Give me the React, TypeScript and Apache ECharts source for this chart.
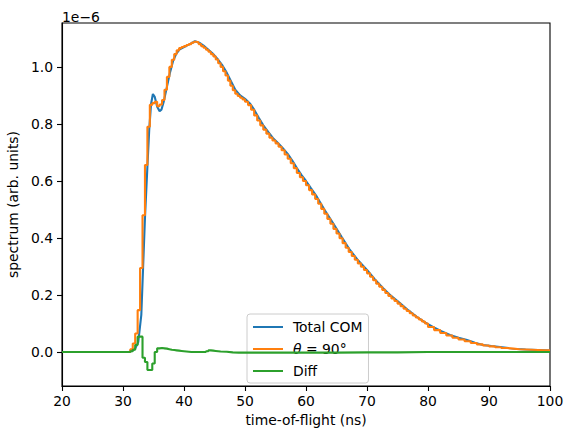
import React, { useEffect, useRef } from "react";
import * as echarts from "echarts";

// Values in units of 1e-6 (shown by the "1e−6" offset label)
const xTicks = [20, 30, 40, 50, 60, 70, 80, 90, 100];
const yTicks = [0.0, 0.2, 0.4, 0.6, 0.8, 1.0];

const totalT = [20, 30, 31, 31.5, 32, 32.5, 33, 33.3, 33.6, 34, 34.3, 34.6, 34.9, 35.2, 35.6, 36, 36.3, 36.7, 37.2, 37.7, 38.2, 38.7, 39.3, 40, 40.8, 41.8, 42.5, 43.2, 44, 44.8, 45.6, 46.3, 47, 47.7, 48.4, 49.2, 50, 50.8, 51.5, 52.3, 53, 53.8, 54.6, 55.4, 56.2, 57, 57.8, 58.5, 59.3, 60, 60.8, 61.8, 63, 64.4, 65.8, 67.2, 68.6, 70, 71.3, 72.6, 74, 75.4, 76.8, 78.2, 79.5, 80.8, 82.2, 83.6, 85, 86.4, 87.7, 89, 90.4, 91.8, 93.2, 94.6, 96, 98, 100];
const totalV = [0, 0, 0.001, 0.004, 0.012, 0.035, 0.13, 0.3, 0.47, 0.65, 0.78, 0.87, 0.905, 0.895, 0.86, 0.845, 0.85, 0.88, 0.93, 0.98, 1.02, 1.045, 1.062, 1.07, 1.078, 1.09, 1.085, 1.075, 1.06, 1.045, 1.025, 1.005, 0.98, 0.95, 0.92, 0.9, 0.888, 0.872, 0.85, 0.82, 0.795, 0.772, 0.75, 0.733, 0.715, 0.695, 0.67, 0.645, 0.62, 0.6, 0.575, 0.544, 0.5, 0.453, 0.405, 0.358, 0.32, 0.288, 0.255, 0.225, 0.196, 0.172, 0.146, 0.123, 0.104, 0.088, 0.073, 0.06, 0.05, 0.042, 0.033, 0.025, 0.021, 0.018, 0.014, 0.011, 0.009, 0.007, 0.005];

// theta = 90 deg, histogram (value holds up to each listed bin edge)
const thetaT = [20, 30, 31.2, 31.6, 32.0, 32.4, 32.8, 33.2, 33.6, 34.0, 34.4, 34.8, 35.2, 35.6, 36.0, 36.4, 36.8, 37.2, 37.6, 38.0, 38.4, 38.8, 39.2, 39.6, 40.0, 40.4, 40.8, 41.2, 41.6, 42.0, 42.4, 42.8, 43.2, 43.6, 44.0, 44.4, 44.8, 45.2, 45.6, 46.0, 46.4, 46.8, 47.2, 47.6, 48.0, 48.4, 48.8, 49.2, 49.6, 50.0, 50.5, 51, 51.5, 52, 52.5, 53, 53.5, 54, 54.5, 55, 55.5, 56, 56.5, 57, 57.5, 58, 58.5, 59, 59.5, 60, 60.5, 61, 61.5, 62, 62.5, 63, 63.5, 64, 64.5, 65, 65.5, 66, 66.5, 67, 67.5, 68, 68.5, 69, 69.5, 70, 70.5, 71, 71.5, 72, 72.5, 73, 73.5, 74, 74.5, 75, 75.5, 76, 76.5, 77, 77.5, 78, 78.5, 79, 79.5, 80, 81, 82, 83, 84, 85, 86, 87, 88, 89, 90, 91, 92, 93, 94, 95, 96, 97, 98, 99, 100];
const thetaV = [0, 0, 0, 0.01, 0.03, 0.065, 0.147, 0.295, 0.48, 0.656, 0.79, 0.867, 0.873, 0.878, 0.862, 0.868, 0.884, 0.92, 0.965, 1.0, 1.025, 1.045, 1.058, 1.066, 1.07, 1.073, 1.077, 1.08, 1.085, 1.088, 1.086, 1.08, 1.073, 1.067, 1.06, 1.053, 1.045, 1.037, 1.026, 1.013, 1.0, 0.985, 0.97, 0.952, 0.934, 0.918, 0.906, 0.898, 0.892, 0.886, 0.878, 0.866, 0.85, 0.83, 0.812, 0.795, 0.78, 0.766, 0.752, 0.742, 0.732, 0.72, 0.708, 0.693, 0.678, 0.662, 0.645, 0.628, 0.613, 0.6, 0.585, 0.568, 0.553, 0.537, 0.52, 0.502, 0.485, 0.467, 0.45, 0.432, 0.416, 0.399, 0.382, 0.366, 0.351, 0.337, 0.324, 0.311, 0.299, 0.288, 0.276, 0.264, 0.252, 0.24, 0.229, 0.218, 0.207, 0.197, 0.188, 0.179, 0.17, 0.161, 0.152, 0.144, 0.136, 0.128, 0.121, 0.114, 0.107, 0.1, 0.088, 0.077, 0.067, 0.058, 0.05, 0.044, 0.038, 0.032, 0.027, 0.023, 0.02, 0.017, 0.014, 0.012, 0.01, 0.009, 0.008, 0.007, 0.006, 0.006];

const diffT = [20, 30, 31.2, 31.6, 32.0, 32.4, 32.8, 33.2, 33.6, 34.0, 34.4, 34.8, 35.2, 35.6, 36.0, 36.4, 36.8, 37.2, 37.6, 38.0, 38.4, 38.8, 39.2, 39.6, 40.0, 40.4, 40.8, 41.2, 43.6, 44.0, 44.4, 44.8, 45.2, 45.6, 46.0, 47, 48, 49, 50, 52, 55, 60, 65, 70, 75, 80, 90, 100];
const diffV = [0, 0, 0, 0.003, 0.008, 0.025, 0.054, 0.054, -0.02, -0.035, -0.063, -0.063, -0.04, 0.0, 0.013, 0.014, 0.013, 0.012, 0.01, 0.008, 0.007, 0.006, 0.005, 0.004, 0.003, 0.002, 0.001, 0.0, 0.0, 0.003, 0.006, 0.005, 0.004, 0.003, 0.002, 0.001, -0.001, -0.002, -0.002, -0.002, -0.002, -0.002, -0.002, -0.001, -0.001, 0.0, 0.0, 0.0];

const seriesNames = ["Total COM", "θ = 90°", "Diff"];
const colors = ["#1f77b4", "#ff7f0e", "#2ca02c"];

const FONT = "DejaVu Sans";
const FS = 13.9;

const zip = (t: number[], v: number[]) => t.map((x, i) => [x, v[i]]);

export default function App() {
  const ref = useRef<HTMLDivElement>(null);
  useEffect(() => {
    if (!ref.current) return;
    const chart = echarts.init(ref.current, undefined, { renderer: "svg" });
    const lw = 2.1;
    chart.setOption({
      animation: false,
      backgroundColor: "#fff",
      textStyle: { fontFamily: FONT },
      grid: {
        left: 62,
        top: 23,
        width: 488,
        height: 363,
        show: true,
        borderColor: "#000",
        borderWidth: 1.1,
        backgroundColor: "transparent",
        containLabel: false,
        outerBoundsMode: "none",
      },
      xAxis: {
        type: "value",
        min: xTicks[0],
        max: xTicks[xTicks.length - 1],
        interval: 10,
        name: "time-of-flight (ns)",
        nameLocation: "middle",
        nameGap: 27,
        nameTextStyle: { color: "#000", fontSize: FS, fontFamily: FONT },
        axisLine: { show: true, onZero: false, lineStyle: { color: "#000", width: 1.1 } },
        axisTick: { show: true, length: 5, lineStyle: { color: "#000", width: 1.1 } },
        axisLabel: { color: "#000", fontSize: FS, fontFamily: FONT, margin: 8 },
        splitLine: { show: false },
      },
      yAxis: {
        type: "value",
        min: -0.119,
        max: 1.154,
        name: "spectrum (arb. units)",
        nameLocation: "middle",
        nameGap: 35,
        nameTextStyle: { color: "#000", fontSize: FS, fontFamily: FONT },
        axisLine: { show: true, onZero: false, lineStyle: { color: "#000", width: 1.1 } },
        axisTick: { show: true, length: 5, lineStyle: { color: "#000", width: 1.1 }, customValues: yTicks },
        axisLabel: {
          color: "#000",
          fontSize: FS,
          fontFamily: FONT,
          margin: 9,
          customValues: yTicks,
          formatter: (v: number) => v.toFixed(1),
        },
        splitLine: { show: false },
      },
      legend: {
        orient: "vertical",
        left: 247,
        top: 314,
        padding: [5, 6, 4, 5],
        itemGap: 6,
        itemWidth: 30,
        itemHeight: 16,
        backgroundColor: "rgba(255,255,255,0.8)",
        borderColor: "#cccccc",
        borderWidth: 1,
        borderRadius: 3,
        data: seriesNames,
        itemStyle: { opacity: 0, color: "rgba(0,0,0,0)", borderWidth: 0 },
        formatter: (name: string) => (name === "θ = 90°" ? "{i|θ} = 90°" : name),
        textStyle: {
          color: "#000",
          fontSize: FS,
          fontFamily: FONT,
          lineHeight: 16,
          padding: [0, 0, 0, 5],
          rich: { i: { fontStyle: "italic", fontSize: FS, fontFamily: FONT, color: "#000" } },
        },
      },
      graphic: [
        {
          type: "text",
          left: 62,
          top: 10,
          style: { text: "1e\u22126", fontSize: FS, fontFamily: FONT, fill: "#000" },
        },
      ],
      series: [
        {
          name: seriesNames[0],
          type: "line",
          data: zip(totalT, totalV),
          symbol: "none",
          color: colors[0],
          lineStyle: { width: lw, color: colors[0] },
          z: 2,
        },
        {
          name: seriesNames[1],
          type: "line",
          step: "start",
          data: zip(thetaT, thetaV),
          symbol: "none",
          color: colors[1],
          lineStyle: { width: lw, color: colors[1] },
          z: 3,
        },
        {
          name: seriesNames[2],
          type: "line",
          step: "start",
          data: zip(diffT, diffV),
          symbol: "none",
          color: colors[2],
          lineStyle: { width: lw, color: colors[2] },
          z: 4,
        },
      ],
    });
    return () => chart.dispose();
  }, []);
  return <div ref={ref} style={{ width: 564, height: 429, position: "absolute", left: 0, top: 0 }} />;
}
